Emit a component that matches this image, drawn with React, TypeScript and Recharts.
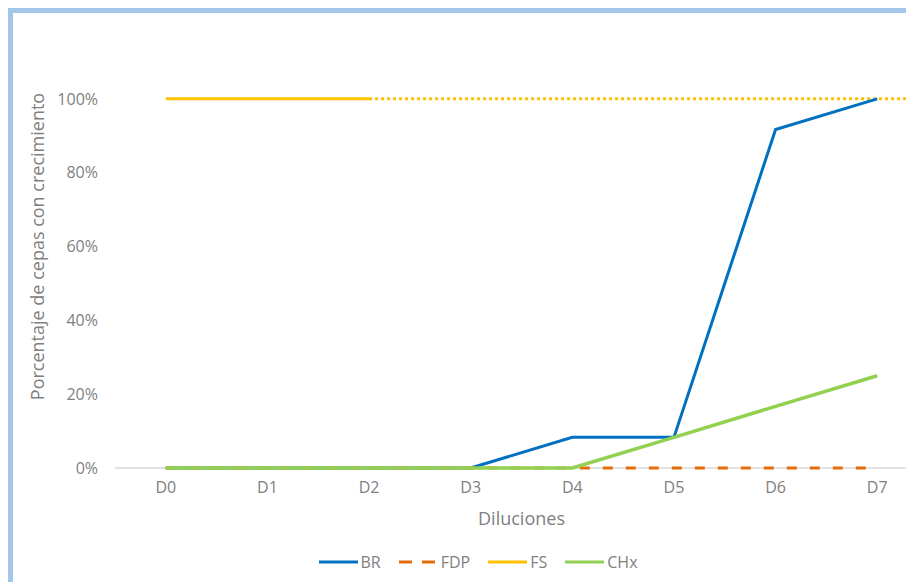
import { LineChart, Line, XAxis, YAxis, Legend, ReferenceLine } from 'recharts';

const categories = ['D0', 'D1', 'D2', 'D3', 'D4', 'D5', 'D6', 'D7'];
const brValues = [0, 0, 0, 0, 0.083, 0.083, 0.917, 1];
const fdpValues = [0, 0, 0, 0, 0, 0, 0, 0];
const fsValues = [1, 1, 1, null, null, null, null, null];
const chxValues = [0, 0, 0, 0, 0, 0.083, 0.167, 0.25];
// FS continues as a dotted projection from D2 to the edge of the plot
const fsProjectionFrom = 2;
const fsProjectionValue = 1;
const yTicks = [0, 0.2, 0.4, 0.6, 0.8, 1];

const data = categories.map((name, i) => ({
  idx: i,
  name,
  BR: brValues[i],
  FDP: fdpValues[i],
  FS: fsValues[i],
  CHx: chxValues[i],
}));

const series = [
  { key: 'BR', color: '#0070C0', width: 3, dash: undefined },
  { key: 'FDP', color: '#E46C0A', width: 3, dash: '10 13' },
  { key: 'FS', color: '#FFC000', width: 3, dash: undefined },
  { key: 'CHx', color: '#92D050', width: 3.5, dash: undefined },
];

const gray = '#808080';

function LegendContent() {
  return (
    <div style={{ display: 'flex', justifyContent: 'center', alignItems: 'center', gap: 18, height: 24, fontSize: 16, color: gray }}>
      {series.map((s) => (
        <div key={s.key} style={{ display: 'flex', alignItems: 'center' }}>
          <svg width={39} height={8}>
            <line x1={0} y1={4} x2={39} y2={4} stroke={s.color} strokeWidth={3}
              strokeDasharray={s.key === 'FDP' ? '13 10' : undefined} />
          </svg>
          <span style={{ marginLeft: 3 }}>{s.key}</span>
        </div>
      ))}
    </div>
  );
}

export default function App() {
  return (
    <div style={{ width: 906, height: 574, overflow: 'hidden', fontFamily: '"Open Sans", sans-serif' }}>
      <div style={{ borderLeft: '5px solid #a2c5e8', borderTop: '5px solid #a2c5e8', width: 940, height: 569, background: '#fff' }}>
        <LineChart width={930} height={569} data={data} margin={{ top: 12, right: 15, left: 0, bottom: 8 }}>
          <XAxis
            dataKey="idx"
            type="number"
            domain={[-0.5, categories.length - 0.5]}
            ticks={categories.map((_, i) => i)}
            tickFormatter={(i: number) => categories[i]}
            axisLine={{ stroke: '#d9d9d9', strokeWidth: 1.5 }}
            tickLine={false}
            tickMargin={8}
            height={82}
            zIndex={-1}
            tick={{ fill: gray, fontSize: 16 }}
            label={{ value: 'Diluciones', position: 'insideBottom', offset: 25, fill: gray, fontSize: 18 }}
          />
          <YAxis
            domain={[0, 1.2]}
            ticks={yTicks}
            tickFormatter={(v: number) => `${Math.round(v * 100)}%`}
            axisLine={false}
            tickLine={false}
            tickSize={0}
            tickMargin={17}
            width={102}
            tick={{ fill: gray, fontSize: 16 }}
            label={{
              value: 'Porcentaje de cepas con crecimiento',
              angle: -90,
              position: 'insideLeft',
              offset: 25,
              fill: gray,
              fontSize: 18,
              style: { textAnchor: 'middle' },
            }}
          />
          <ReferenceLine
            segment={[
              { x: fsProjectionFrom, y: fsProjectionValue },
              { x: categories.length - 0.5, y: fsProjectionValue },
            ]}
            stroke="#FFC000"
            strokeWidth={3}
            strokeDasharray="3 3"
          />
          {series.map((s) => (
            <Line
              key={s.key}
              dataKey={s.key}
              stroke={s.color}
              strokeWidth={s.width}
              strokeDasharray={s.dash}
              dot={false}
              activeDot={false}
              isAnimationActive={false}
            />
          ))}
          <Legend verticalAlign="bottom" wrapperStyle={{ left: 0, width: 930 }} content={<LegendContent />} />
        </LineChart>
      </div>
    </div>
  );
}
